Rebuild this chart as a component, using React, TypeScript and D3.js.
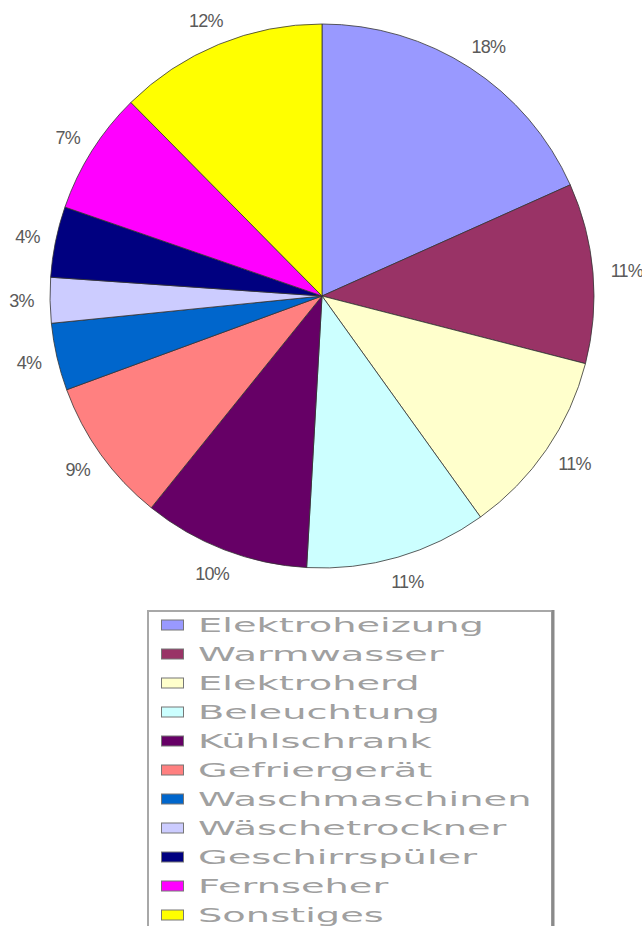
import React, { useEffect, useRef } from 'react';
import * as d3 from 'd3';

// slice shares (labels show the rounded value)
const categories = [
  'Elektroheizung',
  'Warmwasser',
  'Elektroherd',
  'Beleuchtung',
  'Kühlschrank',
  'Gefriergerät',
  'Waschmaschinen',
  'Wäschetrockner',
  'Geschirrspüler',
  'Fernseher',
  'Sonstiges',
];
const shares = [18.3, 10.7, 11.1, 10.8, 9.9, 8.6, 4.0, 2.7, 4.2, 7.3, 12.4];
const colors = [
  '#9999ff', '#993366', '#ffffcc', '#ccffff', '#660066', '#ff8080',
  '#0066cc', '#ccccff', '#000080', '#ff00ff', '#ffff00',
];

const W = 642;
const H = 926;

export default function App() {
  const svgRef = useRef<SVGSVGElement>(null);

  useEffect(() => {
    if (!svgRef.current) return;
    const svg = d3.select(svgRef.current);
    svg.selectAll('*').remove();

    const cx = 322, cy = 296, r = 272;
    const rows = categories.map((c, i) => ({ name: c, value: shares[i], color: colors[i] }));

    const pie = d3.pie<any>().value(d => d.value).sort(null).startAngle(0).endAngle(2 * Math.PI);
    const arc = d3.arc<any>().innerRadius(0).outerRadius(r);
    const arcs = pie(rows);

    const g = svg.append('g').attr('transform', `translate(${cx},${cy})`);

    g.selectAll('path.slice')
      .data(arcs)
      .enter().append('path')
      .attr('class', 'slice')
      .attr('d', arc)
      .attr('fill', d => d.data.color)
      .attr('stroke', '#333')
      .attr('stroke-width', 0.8)
      .attr('stroke-linejoin', 'round');

    // percentage labels, placed just outside the edge like Excel's "outside end"
    const labelR = 290;
    g.selectAll('text.pct')
      .data(arcs)
      .enter().append('text')
      .attr('class', 'pct')
      .each(function (d) {
        const a = (d.startAngle + d.endAngle) / 2;
        const s = Math.sin(a), c = Math.cos(a);
        const txt = `${Math.round(d.data.value)}%`;
        const halfW = txt.length * 5.3;
        const halfH = 7.5;
        d3.select(this)
          .attr('x', labelR * s + halfW * s)
          .attr('y', -(labelR * c) - halfH * c)
          .attr('dy', '0.35em')
          .attr('text-anchor', 'middle')
          .text(txt);
      })
      .style('font-family', '"Liberation Sans Narrow", "Arial Narrow", "Liberation Sans", Arial, sans-serif')
      .style('font-size', '18px')
      .style('letter-spacing', '-0.8px')
      .style('fill', '#5a5a5a');

    // legend
    const lg = svg.append('g');
    lg.append('rect')
      .attr('x', 148)
      .attr('y', 611)
      .attr('width', 404)
      .attr('height', 340)
      .attr('fill', '#fff')
      .attr('stroke', '#a8a8a8')
      .attr('stroke-width', 2);
    lg.append('line')
      .attr('x1', 553).attr('x2', 553)
      .attr('y1', 610).attr('y2', H)
      .attr('stroke', '#8a8a8a')
      .attr('stroke-width', 3);

    const yRow = d3.scalePoint<string>().domain(categories).range([625, 915]);

    const item = lg.selectAll('g.item')
      .data(rows)
      .enter().append('g')
      .attr('class', 'item')
      .attr('transform', d => `translate(0,${yRow(d.name)})`);

    item.append('rect')
      .attr('x', 161.5)
      .attr('y', -5)
      .attr('width', 22)
      .attr('height', 10)
      .attr('fill', d => d.color)
      .attr('stroke', '#777')
      .attr('stroke-width', 1);

    item.append('text')
      .attr('transform', 'translate(198,0) scale(2.02,1)')
      .attr('dy', '0.36em')
      .style('font-family', '"DejaVu Sans", Verdana, sans-serif')
      .style('font-size', '19px')
      .style('fill', '#a0a0a0')
      .text(d => d.name);
  }, []);

  return (
    <svg
      ref={svgRef}
      width={W}
      height={H}
      style={{ position: 'absolute', left: 0, top: 0, background: '#fff' }}
    />
  );
}
